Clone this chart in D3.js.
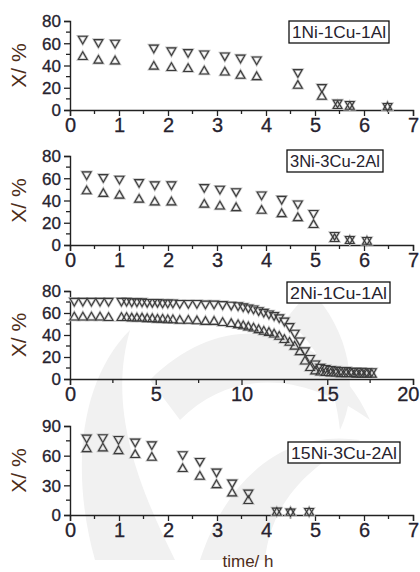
<!DOCTYPE html>
<html><head><meta charset="utf-8">
<script src="https://cdn.jsdelivr.net/npm/d3@7"></script>
<style>body{margin:0;background:#fff}svg{display:block}</style>
</head><body>
<svg id="c" width="420" height="572"></svg>
<script>
// ---------- DATA ----------
const p1Labels = "1Ni-1Cu-1Al";
const p1X   = [0.26,0.58,0.92,1.71,2.07,2.41,2.74,3.16,3.48,3.81,4.65,5.14,5.46,5.71,6.48];
const p1Up  = [64,61,60.4,56,53.5,52,50.7,49,47,45.3,34,20.5,6.6,5.4,3.6];
const p1Low = [47.7,44.4,43.8,39,37.8,36.9,34.7,33.8,30.8,29.6,21.8,12,3.6,3,2.4];

const p2Labels = "3Ni-3Cu-2Al";
const p2X   = [0.34,0.68,1.01,1.41,1.73,2.07,2.74,3.06,3.39,3.91,4.32,4.65,4.97,5.40,5.71,6.06];
const p2Up  = [63.4,61,59.5,56.5,54.4,54.4,52,50.5,48.3,45.3,41.4,37.2,28.7,9,5.4,4.5];
const p2Low = [48.3,46,44.4,40.8,38.4,38.4,36.3,34.7,33.2,30.8,27.8,24.2,18,5.4,3.6,3];

const p3Labels = "2Ni-1Cu-1Al";
const p3X   = [0.25,0.75,1.25,1.75,2.25,
  3.0,3.3,3.6,3.9,4.2,4.5,4.8,5.1,5.4,5.7,6.0,6.4,6.9,7.4,7.9,8.4,8.9,9.4,9.8,10.1,10.4,10.7,11.0,11.3,11.6,11.9,12.2,12.5,12.8,13.1,13.4,13.7,14.0,14.3,14.6,14.9,15.2,15.5,15.8,16.1,16.4,16.7,17.0,17.3,17.6];
const p3Up  = [71,71,71,71,71,
  71,71,70.5,70.5,70.5,70,70,70,69.5,69.5,69.5,69,69,69,68.5,68.5,68,67.5,67,66,65,64,62.5,61,59.5,58,56,53,48,42,35,26,19,14,11,10,9,8.5,8,8,7.5,7.5,7.5,7,7];
const p3Low = [56,56,56,56,55.5,
  55.5,55.5,55,55,55,54.5,54.5,54,54,53.5,53.5,53,53,52.5,52,52,51,50,49,48,47,46,44.5,43,42,40.5,38.5,35.5,33,29.5,24.5,16,10,7,6,5.5,5,5,4.5,4.5,4.5,4,4,4,4];

const p4Labels = "15Ni-3Cu-2Al";
const p4X   = [0.34,0.67,0.99,1.33,1.67,2.3,2.65,2.99,3.31,3.64,4.22,4.5,4.88];
const p4Up  = [78.2,78.5,76.8,74.1,71.4,61.3,54.6,43.8,32.7,22.6,4.4,3.4,4.0];
const p4Low = [66.7,67.4,64.7,60.7,58,46.5,38.8,30.3,21.9,14.2,2.4,2.4,2.4];

const xTicks7  = [0,1,2,3,4,5,6,7];
const xTicks20 = [0,5,10,15,20];
const yTicks80 = [0,20,40,60,80];
const yTicks90 = [0,30,60,90];

const yTitle = "X/ %";
const xTitle = "time/ h";

// ---------- LAYOUT ----------
const svg = d3.select("#c");
const W = 420, L = 70, R = 413;
const FONT = "Liberation Sans, Arial, sans-serif";

// faint background watermark shapes
const wm = svg.append("g").attr("fill","#f1f1f1");
wm.append("path").attr("d","M95,560 C70,470 80,380 130,330 C110,400 130,470 175,560 Z");
wm.append("path").attr("d","M150,380 C230,300 330,330 370,420 C300,370 230,370 180,420 Z");
wm.append("path").attr("d","M200,560 C230,470 290,430 360,440 C300,470 270,510 265,560 Z");
wm.append("path").attr("d","M310,290 C350,330 360,390 340,430 C335,380 315,340 285,320 Z");

const panels = [
  {x:p1X, up:p1Up, low:p1Low, label:p1Labels, top:21, bot:110, xmax:7, ymax:80, xt:xTicks7, xm:0.5, yt:yTicks80, ym:10, box:[289,21,100,22]},
  {x:p2X, up:p2Up, low:p2Low, label:p2Labels, top:156, bot:245, xmax:7, ymax:80, xt:xTicks7, xm:0.5, yt:yTicks80, ym:10, box:[287,150,96,22]},
  {x:p3X, up:p3Up, low:p3Low, label:p3Labels, top:291, bot:379, xmax:20, ymax:80, xt:xTicks20, xm:2.5, yt:yTicks80, ym:10, box:[287,282,103,21]},
  {x:p4X, up:p4Up, low:p4Low, label:p4Labels, top:426, bot:515, xmax:7, ymax:90, xt:xTicks7, xm:0.5, yt:yTicks90, ym:15, box:[288,442,112,21]}
];

const tri = d3.symbol().type(d3.symbolTriangle).size(34);
const txtCol = "#26222e", titleCol = "#4e2e1a";

panels.forEach(p => {
  const x = d3.scaleLinear().domain([0,p.xmax]).range([L,R]);
  const y = d3.scaleLinear().domain([0,p.ymax]).range([p.bot,p.top]);
  const g = svg.append("g");

  const xMinor = d3.range(0, p.xmax + 1e-9, p.xm).filter(v => !p.xt.includes(v));
  const yMinor = d3.range(0, p.ymax + 1e-9, p.ym).filter(v => !p.yt.includes(v));

  const xa = g.append("g").attr("transform",`translate(0,${p.bot})`)
    .call(d3.axisBottom(x).tickValues(p.xt).tickSize(6).tickPadding(2).tickFormat(d3.format("d")));
  xa.append("g").selectAll("line").data(xMinor).join("line")
    .attr("x1",d=>x(d)).attr("x2",d=>x(d)).attr("y1",0).attr("y2",4);
  const ya = g.append("g").attr("transform",`translate(${L},0)`)
    .call(d3.axisLeft(y).tickValues(p.yt).tickSize(6).tickPadding(3).tickFormat(d3.format("d")));
  ya.append("g").selectAll("line").data(yMinor).join("line")
    .attr("x1",0).attr("x2",-4).attr("y1",d=>y(d)).attr("y2",d=>y(d));

  [xa, ya].forEach(a => {
    a.select(".domain").attr("stroke","#222").attr("stroke-width",1.4);
    a.selectAll("line").attr("stroke","#222").attr("stroke-width",1.3);
    a.selectAll("text").attr("fill",txtCol).attr("font-family",FONT)
      .attr("stroke",txtCol).attr("stroke-width",0.3);
  });
  xa.selectAll(".tick text").attr("font-size",20).attr("dy","0.72em");
  // keep the right-most label within the page
  xa.selectAll(".tick text").filter(d => d === p.xmax).each(function(){
    const bb = this.getBBox();
    const over = x(p.xmax) + bb.width/2 - (W - 1);
    if (over > 0) d3.select(this).attr("dx", -over);
  });
  ya.selectAll(".tick text").attr("font-size",17).attr("dy","0.35em");

  g.append("text").attr("transform",`translate(26,${(p.top+p.bot)/2}) rotate(-90)`)
    .attr("text-anchor","middle").attr("font-size",21).attr("fill",titleCol)
    .attr("font-family",FONT).text(yTitle);

  const pts = p.x.map((v,i)=>({x:v, up:p.up[i], low:p.low[i]}));
  const mk = g.append("g");
  [["#c4c4c4",2.6],["#3a3a3a",1.1]].forEach(([c,w]) => {
    mk.append("g").selectAll("path").data(pts).join("path")
      .attr("d",tri).attr("transform",d=>`translate(${x(d.x)},${y(d.low)})`)
      .attr("fill","none").attr("stroke",c).attr("stroke-width",w);
    mk.append("g").selectAll("path").data(pts).join("path")
      .attr("d",tri).attr("transform",d=>`translate(${x(d.x)},${y(d.up)}) rotate(180)`)
      .attr("fill","none").attr("stroke",c).attr("stroke-width",w);
  });

  const [bx,by,bw,bh] = p.box;
  g.append("rect").attr("x",bx).attr("y",by).attr("width",bw).attr("height",bh)
    .attr("fill","#fff").attr("stroke","#111").attr("stroke-width",1.3);
  g.append("text").attr("x",bx+bw/2).attr("y",by+bh/2).attr("dy","0.36em")
    .attr("text-anchor","middle").attr("font-size",17).attr("fill",txtCol)
    .attr("font-family",FONT).attr("textLength",bw-6).attr("lengthAdjust","spacingAndGlyphs")
    .text(p.label);
});

svg.append("text").attr("x",248).attr("y",561).attr("dy","0.35em")
  .attr("text-anchor","middle").attr("font-size",17).attr("fill",titleCol)
  .attr("font-family",FONT).text(xTitle);
</script>
</body></html>
